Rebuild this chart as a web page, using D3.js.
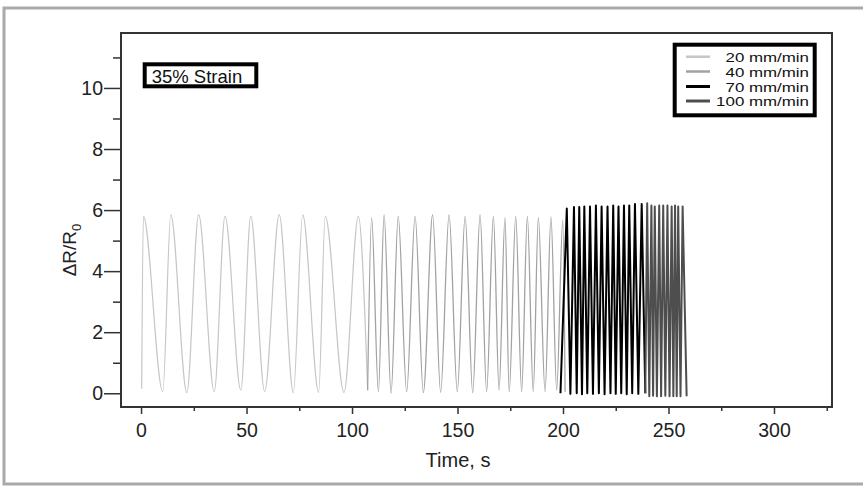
<!DOCTYPE html>
<html>
<head>
<meta charset="utf-8">
<script src="https://cdn.jsdelivr.net/npm/d3@7"></script>
<style>
  body { margin: 0; background: #fff; }
  svg { display: block; font-family: "Liberation Sans", Arial, sans-serif; }
</style>
</head>
<body>
<svg id="chart" width="863" height="486"></svg>
<script>
// peaks / valleys (time in s, dR/R0)
const t20 = [0.3, 1.1, 10.3, 14.1, 21.7, 27.3, 34.7, 39.8, 47.3, 52.0, 58.6, 65.5, 72.2, 76.6, 84.2, 87.3, 96.2, 103.0, 107.4];
const v20 = [0.15, 5.8, 0.05, 5.85, 0.02, 5.85, 0.05, 5.8, 0.1, 5.8, 0.05, 5.85, 0.02, 5.85, 0.03, 5.8, 0.03, 5.8, 0.1];

const t40 = [107.4, 109.3, 112.5, 115.2, 118.5, 121.9, 125.9, 129.9, 133.8, 138.2, 142.0, 146.0, 149.9, 153.6, 157.2, 160.7, 163.8, 167.0, 169.7, 172.5, 174.5, 177.6, 180.4, 183.1, 185.9, 188.3, 191.5, 194.3, 197.0, 199.9, 201.0];
const v40 = [0.1, 5.75, 0.05, 5.85, 0.0, 5.8, 0.05, 5.8, 0.02, 5.85, 0.03, 5.85, 0.05, 5.8, 0.02, 5.85, 0.05, 5.8, 0.1, 5.75, 0.05, 5.8, 0.05, 5.8, 0.05, 5.75, 0.05, 5.78, 0.1, 5.67, 0.05];

const t70 = [198.8, 201.8, 203.5, 205.2, 206.5, 207.7, 209.0, 210.1, 211.5, 212.8, 214.2, 215.6, 217.0, 218.3, 219.7, 221.1, 222.5, 223.8, 225.0, 226.3, 227.6, 228.9, 230.2, 231.4, 232.8, 234.1, 235.7, 237.3, 239.0];
const v70 = [0.0, 6.05, -0.02, 6.1, 0.0, 6.1, -0.03, 6.12, 0.0, 6.12, -0.02, 6.15, 0.0, 6.12, -0.03, 6.12, 0.0, 6.15, -0.02, 6.12, 0.0, 6.15, -0.03, 6.15, 0.0, 6.2, -0.02, 6.2, 0.0];

const t100 = [239.0, 239.9, 240.9, 241.9, 242.7, 243.5, 244.5, 245.6, 246.5, 247.5, 248.5, 249.5, 250.5, 251.5, 252.3, 253.1, 253.9, 254.6, 255.7, 256.7, 258.6];
const v100 = [0.0, 6.22, -0.1, 6.15, -0.08, 6.12, -0.1, 6.15, -0.1, 6.15, -0.08, 6.15, -0.1, 6.12, -0.1, 6.15, -0.1, 6.12, -0.1, 6.12, -0.1];

const xTicks = [0, 50, 100, 150, 200, 250, 300];
const xMinor = [25, 75, 125, 175, 225, 275, 325];
const yTicks = [0, 2, 4, 6, 8, 10];
const yMinor = [1, 3, 5, 7, 9, 11];
const legendLabels = ["20 mm/min", "40 mm/min", "70 mm/min", "100 mm/min"];
const seriesColors = ["#c6c6c6", "#a2a2a2", "#000000", "#4e4e4e"];
const seriesWidths = [1.2, 1.3, 2, 2];

(function () {
  var svg = d3.select("#chart");

  // outer grey border of the figure
  svg.append("path")
    .attr("d", "M863,8 H4 V484 H863")
    .attr("fill", "none")
    .attr("stroke", "#a9a9ab")
    .attr("stroke-width", 3);

  var fx0 = 121, fx1 = 832, fy0 = 33, fy1 = 407;

  var x = d3.scaleLinear().domain([-9.5, 327.5]).range([fx0, fx1]);
  var y = d3.scaleLinear().domain([-0.45, 11.8]).range([fy1, fy0]);

  // clip so lines stay in the frame
  svg.append("clipPath").attr("id", "clip")
    .append("rect").attr("x", fx0).attr("y", fy0).attr("width", fx1 - fx0).attr("height", fy1 - fy0);

  var series = [
    { t: t20, v: v20, curve: d3.curveMonotoneX },
    { t: t40, v: v40, curve: d3.curveMonotoneX },
    { t: t70, v: v70, curve: d3.curveLinear },
    { t: t100, v: v100, curve: d3.curveLinear },
  ];

  var plot = svg.append("g").attr("clip-path", "url(#clip)");
  series.forEach(function (s, i) {
    var pts = s.t.map(function (d, j) { return [d, s.v[j]]; });
    var line = d3.line()
      .x(function (d) { return x(d[0]); })
      .y(function (d) { return y(d[1]); })
      .curve(s.curve);
    plot.append("path")
      .datum(pts)
      .attr("d", line)
      .attr("fill", "none")
      .attr("stroke", seriesColors[i])
      .attr("stroke-width", seriesWidths[i])
      .attr("stroke-linejoin", "round");
  });

  // axes (major + minor ticks)
  function styleAxis(g) {
    g.select(".domain").remove();
    g.selectAll("line").attr("stroke", "#333").attr("stroke-width", 1.5);
    g.selectAll("text").attr("fill", "#222").style("font-size", "19.5px");
  }

  svg.append("g")
    .attr("transform", "translate(0," + fy1 + ")")
    .call(d3.axisBottom(x).tickValues(xTicks).tickSize(7).tickPadding(9).tickFormat(d3.format("d")))
    .call(styleAxis);
  svg.append("g")
    .attr("transform", "translate(0," + fy1 + ")")
    .call(d3.axisBottom(x).tickValues(xMinor).tickSize(4).tickFormat(""))
    .call(styleAxis);

  svg.append("g")
    .attr("transform", "translate(" + fx0 + ",0)")
    .call(d3.axisLeft(y).tickValues(yTicks).tickSize(17).tickPadding(1).tickFormat(d3.format("d")))
    .call(styleAxis);
  svg.append("g")
    .attr("transform", "translate(" + fx0 + ",0)")
    .call(d3.axisLeft(y).tickValues(yMinor).tickSize(8).tickFormat(""))
    .call(styleAxis);

  // frame
  svg.append("rect")
    .attr("x", fx0).attr("y", fy0)
    .attr("width", fx1 - fx0).attr("height", fy1 - fy0)
    .attr("fill", "none")
    .attr("stroke", "#333")
    .attr("stroke-width", 2);

  // axis titles
  svg.append("text")
    .attr("x", 458).attr("y", 467)
    .attr("text-anchor", "middle")
    .style("font-size", "20px")
    .attr("fill", "#222")
    .text("Time, s");

  var yl = svg.append("text")
    .attr("transform", "translate(76,250) rotate(-90)")
    .attr("text-anchor", "middle")
    .style("font-size", "19px")
    .attr("fill", "#222");
  yl.append("tspan").text("\u0394R/R");
  yl.append("tspan").attr("dy", 5).style("font-size", "13px").text("0");

  // strain annotation
  svg.append("rect")
    .attr("x", 144.7).attr("y", 64.3).attr("width", 111.6).attr("height", 22)
    .attr("fill", "#fff").attr("stroke", "#000").attr("stroke-width", 4);
  svg.append("text")
    .attr("x", 151.7).attr("y", 83.3)
    .style("font-size", "18.5px")
    .attr("fill", "#111")
    .text("35% Strain");

  // legend
  var lg = svg.append("g");
  lg.append("rect")
    .attr("x", 674.7).attr("y", 44.7).attr("width", 140).attr("height", 70.6)
    .attr("fill", "#fff").attr("stroke", "#000").attr("stroke-width", 4);
  var rowY = [61.7, 76.5, 91.5, 106];
  legendLabels.forEach(function (lab, i) {
    lg.append("line")
      .attr("x1", 686).attr("x2", 710)
      .attr("y1", rowY[i] - 5).attr("y2", rowY[i] - 5)
      .attr("stroke", seriesColors[i])
      .attr("stroke-width", i < 2 ? 2.5 : 3);
    lg.append("text")
      .attr("transform", "translate(809," + rowY[i] + ") scale(1.3,1)")
      .attr("text-anchor", "end")
      .style("font-size", "13px")
      .attr("fill", "#111")
      .text(lab);
  });
})();
</script>
</body>
</html>
